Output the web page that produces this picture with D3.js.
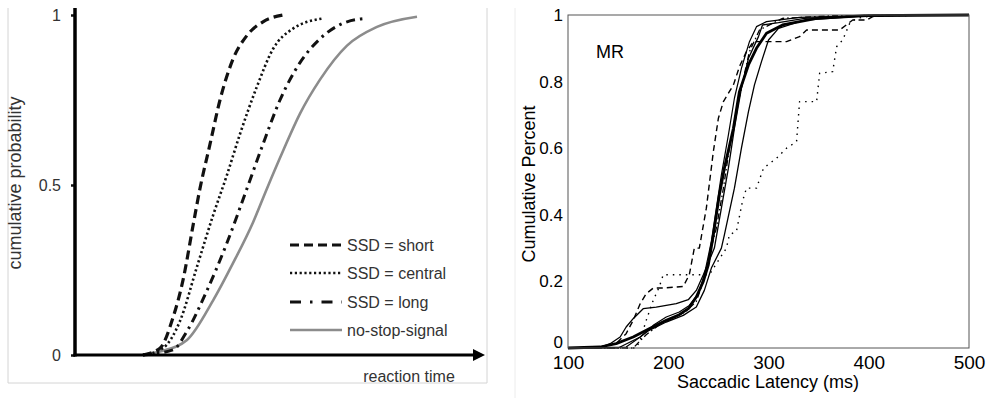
<!DOCTYPE html>
<html>
<head>
<meta charset="utf-8">
<script src="https://cdn.jsdelivr.net/npm/d3@7"></script>
<style>
  body { margin: 0; background: #fff; }
  svg { display: block; font-family: Arial, "Liberation Sans", sans-serif; }
</style>
</head>
<body>
<div id="chart"></div>
<script>
// ---- left panel: model curves (reaction time in arbitrary units) ----
const leftYTicks = [0, 0.5, 1];
const leftLegend = ['SSD = short', 'SSD = central', 'SSD = long', 'no-stop-signal'];

const rtShort = [68, 85, 98, 108, 118, 125, 135, 145, 158, 172, 188, 208];
const pShort = [0, 0.02, 0.11, 0.22, 0.38, 0.49, 0.62, 0.75, 0.87, 0.94, 0.98, 1.0];

const rtCentral = [68, 88, 105, 122, 138, 152, 165, 182, 198, 218, 248];
const pCentral = [0, 0.02, 0.10, 0.26, 0.41, 0.53, 0.65, 0.79, 0.90, 0.96, 0.99];

const rtLong = [68, 98, 112, 132, 152, 172, 188, 205, 225, 245, 272, 292];
const pLong = [0, 0.015, 0.07, 0.19, 0.33, 0.49, 0.62, 0.75, 0.86, 0.93, 0.98, 0.99];

const rtNoStop = [68, 85, 112, 138, 158, 178, 192, 208, 225, 245, 272, 302, 342];
const pNoStop = [0, 0.01, 0.044, 0.16, 0.27, 0.39, 0.49, 0.60, 0.71, 0.81, 0.91, 0.965, 0.995];

// ---- right panel: observed latency distributions (monkey MR) ----
const rightXTicks = [100, 200, 300, 400, 500];
const rightYTicks = [0, 0.2, 0.4, 0.6, 0.8, 1];

const latThick = [100, 132, 148, 165, 181, 198, 211, 220, 228, 235, 240, 245, 251, 256, 265, 271, 280, 288, 298, 314, 348, 398, 500];
const pThick = [0, 0.003, 0.013, 0.033, 0.058, 0.083, 0.10, 0.118, 0.153, 0.20, 0.25, 0.34, 0.46, 0.54, 0.66, 0.77, 0.85, 0.90, 0.945, 0.97, 0.99, 0.998, 1];

const latThinA = [100, 130, 142, 152, 158, 165, 175, 188, 208, 220, 228, 235, 246, 253, 260, 266, 273, 280, 290, 294, 298, 310, 336, 398, 500];
const pThinA = [0, 0, 0.013, 0.033, 0.063, 0.088, 0.118, 0.123, 0.133, 0.145, 0.173, 0.22, 0.30, 0.42, 0.54, 0.66, 0.78, 0.87, 0.935, 0.97, 0.972, 0.977, 0.99, 0.998, 1];

const latThinB = [100, 150, 172, 181, 198, 215, 228, 236, 243, 253, 256, 266, 273, 280, 286, 293, 300, 310, 336, 400, 500];
const pThinB = [0, 0, 0.033, 0.053, 0.078, 0.098, 0.123, 0.173, 0.24, 0.30, 0.34, 0.48, 0.60, 0.71, 0.79, 0.86, 0.925, 0.96, 0.985, 0.998, 1];

const latThinC = [100, 158, 172, 185, 198, 211, 221, 230, 236, 243, 248, 253, 260, 266, 273, 281, 288, 298, 331, 400, 500];
const pThinC = [0, 0.003, 0.033, 0.068, 0.093, 0.108, 0.128, 0.163, 0.22, 0.32, 0.42, 0.52, 0.64, 0.75, 0.84, 0.92, 0.965, 0.98, 0.993, 0.998, 1];

const latDashDot = [100, 165, 178, 191, 205, 218, 228, 235, 241, 248, 255, 261, 268, 275, 281, 291, 314, 364, 500];
const pDashDot = [0, 0, 0.04, 0.07, 0.09, 0.11, 0.14, 0.20, 0.28, 0.36, 0.48, 0.60, 0.71, 0.81, 0.89, 0.955, 0.99, 0.998, 1];

const latDashed = [100, 132, 148, 158, 165, 172, 178, 185, 195, 215, 221, 226, 231, 238, 245, 250, 255, 265, 271, 278, 285, 298, 318, 331, 338, 371, 384, 398, 404, 431, 500];
const pDashed = [0, 0.003, 0.013, 0.043, 0.083, 0.133, 0.163, 0.18, 0.18, 0.185, 0.22, 0.30, 0.30, 0.42, 0.59, 0.69, 0.74, 0.79, 0.845, 0.89, 0.92, 0.92, 0.92, 0.935, 0.955, 0.955, 0.985, 0.985, 0.995, 1, 1];

const latDotted = [100, 168, 172, 178, 185, 191, 195, 241, 258, 261, 268, 274, 278, 288, 295, 308, 318, 328, 331, 348, 351, 364, 368, 374, 381, 388, 404, 500];
const pDotted = [0, 0, 0.023, 0.083, 0.143, 0.183, 0.22, 0.22, 0.30, 0.34, 0.35, 0.44, 0.48, 0.48, 0.54, 0.57, 0.60, 0.62, 0.74, 0.74, 0.825, 0.83, 0.905, 0.925, 0.975, 0.99, 0.998, 1];

const zip = (xs, ys) => xs.map((x, i) => ({ x: x, y: ys[i] }));

const width = 989;
const height = 398;

const svg = d3
  .select('#chart')
  .append('svg')
  .attr('width', width)
  .attr('height', height);

/* ---------------- Left panel ---------------- */
const lx = d3.scaleLinear().domain([0, 410]).range([75, 485]);
const ly = d3.scaleLinear().domain([0, 1]).range([355, 15]);

// light frame around the left picture
svg.append('path')
  .attr('d', 'M8,8 V383 H487 V8')
  .attr('fill', 'none')
  .attr('stroke', '#d4d4d4')
  .attr('stroke-width', 1);

const left = svg.append('g');

const smooth = d3.line()
  .x(d => lx(d.x))
  .y(d => ly(d.y))
  .curve(d3.curveMonotoneX);

const leftSeries = [
  { data: zip(rtNoStop, pNoStop), color: '#8c8c8c', w: 2.6, dash: null },
  { data: zip(rtLong, pLong), color: '#111', w: 3, dash: '9,5,2.5,5' },
  { data: zip(rtCentral, pCentral), color: '#111', w: 2.6, dash: '2.2,2.6' },
  { data: zip(rtShort, pShort), color: '#111', w: 3.2, dash: '9,5' }
];

left.selectAll('.lcurve')
  .data(leftSeries)
  .enter()
  .append('path')
  .attr('class', 'lcurve')
  .attr('d', d => smooth(d.data))
  .attr('fill', 'none')
  .attr('stroke', d => d.color)
  .attr('stroke-width', d => d.w)
  .attr('stroke-dasharray', d => d.dash);

// y axis
const leftYAxis = d3.axisLeft(ly).tickValues(leftYTicks).tickSize(4).tickFormat(d3.format('~g'));
const lyg = left.append('g')
  .attr('transform', `translate(${lx(0)},0)`)
  .call(leftYAxis);
lyg.select('.domain').remove();
lyg.selectAll('.tick line').attr('stroke', '#111').attr('stroke-width', 2.5);
lyg.selectAll('.tick text')
  .attr('x', -14)
  .attr('fill', '#333')
  .style('font-size', '16px')
  .style('font-family', 'Arial, "Liberation Sans", sans-serif');

left.append('line')
  .attr('x1', lx(0)).attr('x2', lx(0))
  .attr('y1', 8).attr('y2', ly(0) + 1.5)
  .attr('stroke', '#000')
  .attr('stroke-width', 3.5);

// x axis with arrow
left.append('line')
  .attr('x1', lx(0) - 1.5).attr('x2', lx(400))
  .attr('y1', ly(0)).attr('y2', ly(0))
  .attr('stroke', '#000')
  .attr('stroke-width', 3);
left.append('path')
  .attr('d', `M${lx(398)},${ly(0) - 6} L${lx(410)},${ly(0)} L${lx(398)},${ly(0) + 6} Z`)
  .attr('fill', '#000');

left.append('text')
  .attr('x', 409)
  .attr('y', 382)
  .attr('text-anchor', 'middle')
  .attr('fill', '#333')
  .style('font-size', '16px')
  .text('reaction time');

left.append('text')
  .attr('transform', 'translate(21,183) rotate(-90)')
  .attr('text-anchor', 'middle')
  .attr('fill', '#333')
  .style('font-size', '18px')
  .text('cumulative probability');

// legend
const legendRows = [245, 273, 302, 330];
const legend = left.selectAll('.legend')
  .data(leftLegend)
  .enter()
  .append('g')
  .attr('class', 'legend')
  .attr('transform', (d, i) => `translate(0,${legendRows[i]})`);

const legendStyle = [leftSeries[3], leftSeries[2], leftSeries[1], leftSeries[0]];
legend.append('line')
  .attr('x1', 290).attr('x2', 342)
  .attr('stroke', (d, i) => legendStyle[i].color)
  .attr('stroke-width', (d, i) => legendStyle[i].w)
  .attr('stroke-dasharray', (d, i) => i === 2 ? '11,9,2.5,9' : legendStyle[i].dash);
legend.append('text')
  .attr('x', 347)
  .attr('y', 6)
  .attr('fill', '#333')
  .style('font-size', '16px')
  .text(d => d);

/* ---------------- Right panel ---------------- */
svg.append('line')
  .attr('x1', 515).attr('x2', 515)
  .attr('y1', 8).attr('y2', 398)
  .attr('stroke', '#ececec')
  .attr('stroke-width', 1);

const rx = d3.scaleLinear().domain([100, 500]).range([568, 969]);
const ry = d3.scaleLinear().domain([0, 1]).range([348, 15]);

const right = svg.append('g');

const rline = d3.line()
  .x(d => rx(d.x))
  .y(d => ry(d.y));

const rightSeries = [
  { data: zip(latDotted, pDotted), w: 1.4, dash: '1.5,5' },
  { data: zip(latDashed, pDashed), w: 1.4, dash: '6,4' },
  { data: zip(latDashDot, pDashDot), w: 1.3, dash: '6,3,1.5,3' },
  { data: zip(latThinB, pThinB), w: 1.3, dash: null },
  { data: zip(latThinC, pThinC), w: 1.2, dash: null },
  { data: zip(latThinA, pThinA), w: 1.3, dash: null },
  { data: zip(latThick, pThick), w: 2.8, dash: null }
];

right.selectAll('.rcurve')
  .data(rightSeries)
  .enter()
  .append('path')
  .attr('class', 'rcurve')
  .attr('d', d => rline(d.data))
  .attr('fill', 'none')
  .attr('stroke', '#000')
  .attr('stroke-width', d => d.w)
  .attr('stroke-linejoin', 'round')
  .attr('stroke-dasharray', d => d.dash);

// frame
right.append('rect')
  .attr('x', rx(100)).attr('y', ry(1))
  .attr('width', rx(500) - rx(100))
  .attr('height', ry(0) - ry(1))
  .attr('fill', 'none')
  .attr('stroke', '#555')
  .attr('stroke-width', 1);

const rxAxis = d3.axisBottom(rx).tickValues(rightXTicks).tickSize(0).tickPadding(8);
const rxg = right.append('g')
  .attr('transform', `translate(0,${ry(0)})`)
  .call(rxAxis);
rxg.select('.domain').remove();
rxg.selectAll('.tick text')
  .attr('fill', '#000')
  .style('font-size', '19px')
  .style('font-family', 'Arial, "Liberation Sans", sans-serif');

const ryAxis = d3.axisLeft(ry).tickValues(rightYTicks).tickSize(0).tickPadding(5).tickFormat(d3.format('~g'));
const ryg = right.append('g')
  .attr('transform', `translate(${rx(100)},0)`)
  .call(ryAxis);
ryg.select('.domain').remove();
ryg.selectAll('.tick text')
  .attr('fill', '#000')
  .style('font-size', '17px')
  .style('font-family', 'Arial, "Liberation Sans", sans-serif');
ryg.selectAll('.tick')
  .filter(d => d === 0)
  .select('text')
  .attr('dy', '-0.05em');

right.append('text')
  .attr('x', 768)
  .attr('y', 388)
  .attr('text-anchor', 'middle')
  .style('font-size', '18px')
  .text('Saccadic Latency (ms)');

right.append('text')
  .attr('transform', 'translate(535,184) rotate(-90)')
  .attr('text-anchor', 'middle')
  .style('font-size', '18px')
  .text('Cumulative Percent');

right.append('text')
  .attr('x', 596)
  .attr('y', 58)
  .style('font-size', '18px')
  .text('MR');
</script>
</body>
</html>
